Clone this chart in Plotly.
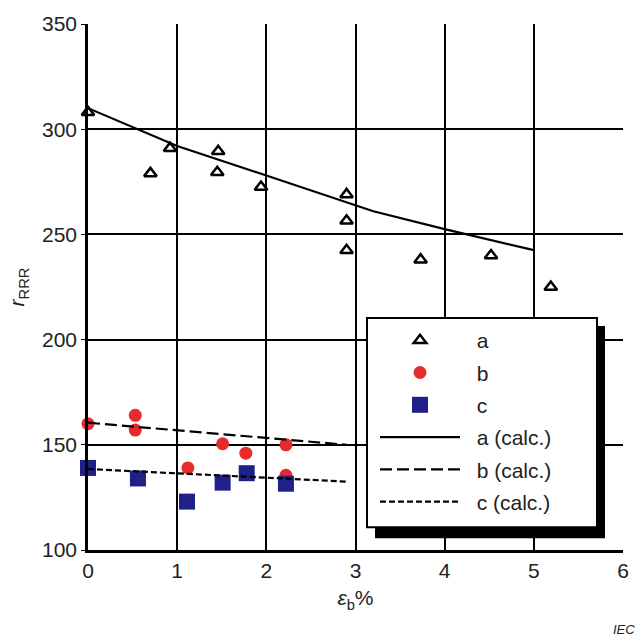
import plotly.graph_objects as go

# ---- data ----
a_x = [0.0, 0.70, 0.92, 1.46, 1.45, 1.94, 2.90, 2.90, 2.90, 3.73, 4.52, 5.19]
a_y = [308, 279, 291, 289.5, 279.5, 272.5, 269, 256.5, 242.5, 238, 240, 225]

b_x = [0.0, 0.53, 0.53, 1.12, 1.51, 1.77, 2.22, 2.22]
b_y = [160, 164, 157, 139, 150.5, 146, 150, 135.5]

c_x = [0.0, 0.56, 1.11, 1.51, 1.78, 2.22]
c_y = [139, 134, 123, 132, 136.5, 131.5]

a_calc_x = [0, 1, 2, 3, 3.2, 4, 5]
a_calc_y = [310, 292, 278, 264, 261, 252.5, 242.5]

b_calc_x = [0, 2.9]
b_calc_y = [160.5, 150]

c_calc_x = [0, 2.9]
c_calc_y = [138.5, 132.5]

x_ticks = [0, 1, 2, 3, 4, 5, 6]
y_ticks = [100, 150, 200, 250, 300, 350]

legend_names = ["a", "b", "c", "a (calc.)", "b (calc.)", "c (calc.)"]

FONT = "Liberation Sans, Arial, sans-serif"
RED = "#e52b2b"
BLUE = "#1f2088"
PAD = "\u00a0\u00a0"

fig = go.Figure()
fig.add_trace(go.Scatter(x=a_x, y=a_y, mode="markers", name=PAD + legend_names[0], legendgroup="1",
                         marker=dict(symbol="triangle-up-open", size=11, color="black",
                                     line=dict(width=2.5, color="black")),
                         cliponaxis=False))
fig.add_trace(go.Scatter(x=b_x, y=b_y, mode="markers", name=PAD + legend_names[1], legendgroup="2",
                         marker=dict(symbol="circle", size=13, color=RED), cliponaxis=False))
fig.add_trace(go.Scatter(x=c_x, y=c_y, mode="markers", name=PAD + legend_names[2], legendgroup="3",
                         marker=dict(symbol="square", size=16, color=BLUE), cliponaxis=False))
fig.add_trace(go.Scatter(x=a_calc_x, y=a_calc_y, mode="lines", name=PAD + legend_names[3], legendgroup="4",
                         line=dict(color="black", width=2.2)))
fig.add_trace(go.Scatter(x=b_calc_x, y=b_calc_y, mode="lines", name=PAD + legend_names[4], legendgroup="5",
                         line=dict(color="black", width=2.2, dash="12px,5px")))
fig.add_trace(go.Scatter(x=c_calc_x, y=c_calc_y, mode="lines", name=PAD + legend_names[5], legendgroup="6",
                         line=dict(color="black", width=2.2, dash="6px,3px")))

W, H = 643, 642
L, R, T, B = 88, 20, 17, 92
pw, ph = W - L - R, H - T - B

def px(xp):
    return (xp - L) / pw

def py(yp):
    return (H - B - yp) / ph

# legend box with shadow
fig.add_shape(type="rect", xref="paper", yref="paper",
              x0=px(375), x1=px(605), y0=py(538), y1=py(323),
              fillcolor="black", line=dict(width=0), layer="above")
fig.add_shape(type="rect", xref="paper", yref="paper",
              x0=px(367), x1=px(597), y0=py(527), y1=py(315),
              fillcolor="white", line=dict(width=2, color="black"), layer="above")

fig.update_layout(
    width=W, height=H,
    margin=dict(l=L, r=R, t=T, b=B),
    paper_bgcolor="white", plot_bgcolor="white",
    font=dict(family=FONT, size=21, color="#222"),
    showlegend=True,
    legend=dict(x=px(375), y=py(317), xanchor="left", yanchor="top",
                bgcolor="rgba(0,0,0,0)", borderwidth=0,
                font=dict(size=21, color="#222"), tracegroupgap=2,
                itemwidth=80),
    xaxis=dict(range=[0, 6], tickvals=x_ticks, showgrid=True, gridcolor="black", gridwidth=2,
               zeroline=False, showline=True, linecolor="black", linewidth=2.5,
               ticks="", tickfont=dict(size=21), fixedrange=True,
               title=dict(text="<i>ε</i><sub>b</sub>%", font=dict(size=21), standoff=10)),
    yaxis=dict(range=[100, 350], tickvals=y_ticks, showgrid=True, gridcolor="black", gridwidth=2,
               zeroline=False, showline=True, linecolor="black", linewidth=2.5,
               ticks="outside", ticklen=4, tickcolor="black", tickfont=dict(size=21),
               fixedrange=True,
               title=dict(text="<i>r</i><sub>RRR</sub>", font=dict(size=21), standoff=12)),
)

fig.add_annotation(text="<i>IEC</i>", xref="paper", yref="paper", x=px(637), y=py(631),
                   xanchor="right", yanchor="middle", showarrow=False,
                   font=dict(size=13, color="#222"))

fig.write_html("out.html")
